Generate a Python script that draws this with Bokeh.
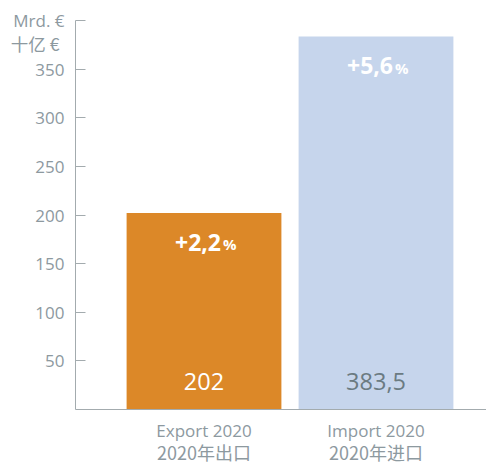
from bokeh.plotting import figure
from bokeh.models import Range1d, FixedTicker, LinearAxis, ColumnDataSource
from bokeh.core.properties import value
from bokeh.embed import file_html
from bokeh.resources import INLINE

categories_en = ["Export 2020", "Import 2020"]
categories_zh = ["2020年出口", "2020年进口"]
values = [202, 383.5]
value_labels = ["202", "383,5"]
change_labels = ["+2,2", "+5,6"]
bar_colors = ["#dc8828", "#c6d5ec"]
value_colors = ["#ffffff", "#6b7b82"]
y_ticks = [50, 100, 150, 200, 250, 300, 350, 400]
unit_top = "Mrd. €"
unit_zh = "十亿 €"

GREY = "#8d999f"
AXIS = "#a3abae"
FONT = "Open Sans"
CJK = "Noto Sans CJK SC"

W, H = 486, 466
PX_PER_UNIT = 0.9725      # vertical pixels per value unit
Y0_PX = 409               # pixel row of value 0
X0_PX, X_STEP = 203.5, 172.0
AXIS_X = (75 - X0_PX) / X_STEP

xs = list(range(len(values)))
src = ColumnDataSource(dict(x=xs, top=values, color=bar_colors, vlab=value_labels,
                            vcol=value_colors, chg=change_labels,
                            pct=["%"] * len(values), zero=[0] * len(values)))

p = figure(width=W, height=H, output_backend="svg", toolbar_location=None,
           x_range=Range1d(-X0_PX / X_STEP, (W - X0_PX) / X_STEP),
           y_range=Range1d(-(H - Y0_PX) / PX_PER_UNIT, Y0_PX / PX_PER_UNIT),
           min_border=0, x_axis_location=None, y_axis_location=None)
p.outline_line_color = None
p.grid.visible = False
p.background_fill_color = "white"

p.vbar(x="x", top="top", width=0.9, bottom=0, color="color", line_color=None, source=src)

p.text(x="x", y="zero", text="vlab", text_color="vcol", source=src,
       text_align="center", text_baseline="middle", y_offset=-28,
       text_font=value(FONT), text_font_size="23.5px")
p.text(x="x", y="top", text="chg", text_color="white", source=src,
       text_align="right", text_baseline="middle", x_offset=17, y_offset=29,
       text_font=value(FONT), text_font_size="23px", text_font_style="bold")
p.text(x="x", y="top", text="pct", text_color="white", source=src,
       text_align="left", text_baseline="middle", x_offset=19, y_offset=31,
       text_font=value(FONT), text_font_size="15px", text_font_style="bold")

p.text(x=[AXIS_X], y=[376], text=[unit_zh], text_color=GREY, x_offset=-16,
       text_align="right", text_baseline="middle",
       text_font=value(CJK), text_font_size="17.5px")

yax = LinearAxis(ticker=FixedTicker(ticks=y_ticks), fixed_location=AXIS_X, bounds=(0, 400))
yax.major_label_overrides = {400: unit_top}
yax.major_tick_in = 10
yax.major_tick_out = 0
yax.minor_tick_line_color = None
yax.axis_line_color = AXIS
yax.major_tick_line_color = AXIS
yax.major_label_text_color = GREY
yax.major_label_text_font = FONT
yax.major_label_text_font_size = "17px"
yax.major_label_standoff = 11
p.add_layout(yax, "left")

xax = LinearAxis(ticker=FixedTicker(ticks=xs), fixed_location=0,
                 bounds=(AXIS_X, (W - X0_PX) / X_STEP))
xax.major_label_overrides = {i: t for i, t in enumerate(categories_en)}
xax.major_tick_line_color = None
xax.minor_tick_line_color = None
xax.axis_line_color = AXIS
xax.major_label_text_color = GREY
xax.major_label_text_font = FONT
xax.major_label_text_font_size = "17px"
xax.major_label_standoff = 3
p.add_layout(xax, "below")

xax2 = LinearAxis(ticker=FixedTicker(ticks=xs), fixed_location=0)
xax2.major_label_overrides = {i: t for i, t in enumerate(categories_zh)}
xax2.major_tick_line_color = None
xax2.minor_tick_line_color = None
xax2.axis_line_color = None
xax2.major_label_text_color = GREY
xax2.major_label_text_font = CJK
xax2.major_label_text_font_size = "18px"
xax2.major_label_standoff = 23
p.add_layout(xax2, "below")

open("out.html", "w").write(file_html(p, INLINE))
